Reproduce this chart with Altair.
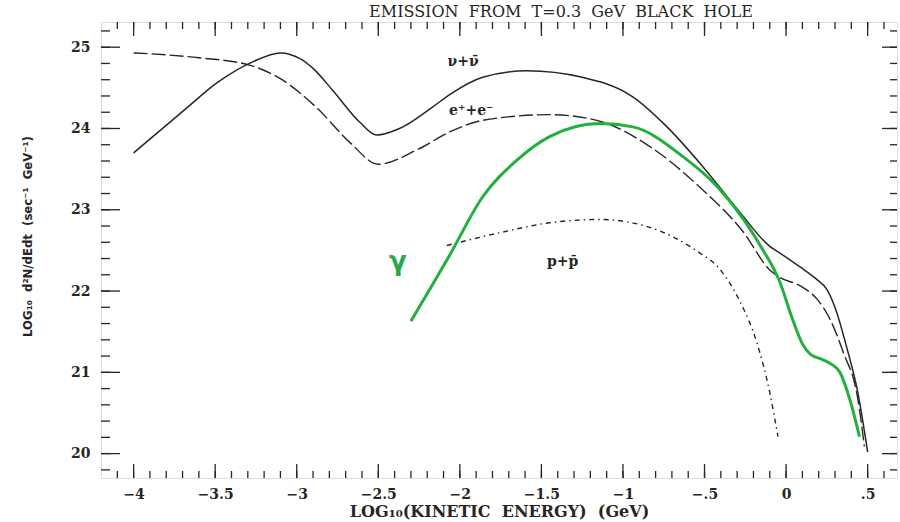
import altair as alt
import pandas as pd

# ---- data ----
nu_x = [-4.0, -3.67, -3.49, -3.27, -3.10, -2.98, -2.90, -2.78, -2.61, -2.51, -2.37, -2.17, -2.06,
        -1.86, -1.59, -1.25, -0.94, -0.73, -0.51, -0.28, -0.10, -0.04, 0.09, 0.19, 0.25, 0.31,
        0.37, 0.44, 0.50]
nu_y = [23.70, 24.26, 24.56, 24.82, 24.93, 24.86, 24.74, 24.47, 24.07, 23.92, 24.00, 24.26, 24.42,
        24.63, 24.71, 24.63, 24.39, 24.02, 23.53, 22.96, 22.55, 22.47, 22.29, 22.14, 22.02, 21.74,
        21.32, 20.75, 20.02]

ee_x = [-4.0, -3.60, -3.29, -3.09, -2.88, -2.67, -2.50, -2.26, -2.06, -1.86, -1.45, -1.16, -0.83,
        -0.53, -0.26, -0.10, -0.04, 0.09, 0.19, 0.27, 0.35, 0.44, 0.48]
ee_y = [24.93, 24.87, 24.78, 24.60, 24.26, 23.82, 23.56, 23.74, 23.96, 24.10, 24.17, 24.10, 23.77,
        23.28, 22.72, 22.26, 22.17, 22.06, 21.90, 21.65, 21.25, 20.67, 20.09]

gamma_x = [-2.30, -2.06, -1.86, -1.65, -1.45, -1.14, -0.94, -0.63, -0.42, -0.26, -0.14, -0.04,
           0.04, 0.10, 0.15, 0.22, 0.27, 0.33, 0.39, 0.45]
gamma_y = [21.63, 22.45, 23.16, 23.61, 23.90, 24.06, 24.02, 23.65, 23.28, 22.88, 22.50, 22.12,
           21.65, 21.35, 21.22, 21.16, 21.11, 21.00, 20.67, 20.21]

pp_x = [-2.08, -1.75, -1.45, -1.14, -0.83, -0.53, -0.42, -0.28, -0.18, -0.10, -0.05]
pp_y = [22.56, 22.72, 22.84, 22.88, 22.78, 22.47, 22.30, 21.86, 21.37, 20.75, 20.21]

label_text = ["ν+ν\u0304", "e\u207a+e\u207b", "p+p\u0304"]
label_x = [-1.98, -1.93, -1.37]
label_y = [24.82, 24.22, 22.36]

gamma_label = ["γ"]
gamma_label_x = [-2.38]
gamma_label_y = [22.36]

x_major = [-4, -3.5, -3, -2.5, -2, -1.5, -1, -0.5, 0, 0.5]
x_minor = [round(-4.1 + 0.1 * i, 2) for i in range(48)]
y_major = [20, 21, 22, 23, 24, 25]
y_minor = [round(19.8 + 0.2 * i, 2) for i in range(28)]

X_MIN, X_MAX = -4.2, 0.68
Y_MIN, Y_MAX = 19.7, 25.31

TITLE = "EMISSION \u00a0FROM \u00a0T=0.3 \u00a0GeV \u00a0BLACK \u00a0HOLE"
X_TITLE = "LOG\u2081\u2080(KINETIC \u00a0ENERGY) \u00a0(GeV)"
Y_TITLE = "LOG\u2081\u2080 \u00a0d\u00b2N/dEdt \u00a0(sec\u207b\u00b9 \u00a0GeV\u207b\u00b9)"

# ---- tables ----
series = pd.concat([
    pd.DataFrame({"x": nu_x, "y": nu_y, "s": "nu"}),
    pd.DataFrame({"x": ee_x, "y": ee_y, "s": "ee"}),
    pd.DataFrame({"x": gamma_x, "y": gamma_y, "s": "gamma"}),
    pd.DataFrame({"x": pp_x, "y": pp_y, "s": "pp"}),
], ignore_index=True)

labels = pd.DataFrame({"x": label_x, "y": label_y, "t": label_text})
glabel = pd.DataFrame({"x": gamma_label_x, "y": gamma_label_y, "t": gamma_label})

SERIF = "DejaVu Serif"
INK = "#262626"

xs = alt.Scale(domain=[X_MIN, X_MAX], nice=False, zero=False)
ys = alt.Scale(domain=[Y_MIN, Y_MAX], nice=False, zero=False)

xaxis = alt.Axis(
    values=x_major, ticks=False, domain=False, grid=False, title=X_TITLE,
    labelExpr="replace(replace(format(datum.value, '~g'), '-', '\u2212'), '0.', '.')",
    labelFont=SERIF, labelFontSize=14, labelFontWeight="bold", labelColor=INK, labelPadding=9,
    titleFont=SERIF, titleFontSize=16, titleFontWeight="bold", titleColor=INK, titlePadding=2,
    labelFlush=False, labelOverlap=False,
)
yaxis = alt.Axis(
    values=y_major, format="d", ticks=False, domain=False, grid=False, title=Y_TITLE,
    labelFont=SERIF, labelFontSize=14, labelFontWeight="bold", labelColor=INK, labelPadding=11,
    titleFont="DejaVu Sans Condensed, Liberation Sans Narrow, DejaVu Sans, sans-serif",
    titleFontSize=13, titleFontWeight="bold", titleColor=INK, titlePadding=36, titleY=214,
    labelFlush=False, labelOverlap=False,
)

X = alt.X("x:Q", scale=xs, axis=xaxis)
Y = alt.Y("y:Q", scale=ys, axis=yaxis)

base = alt.Chart(series).encode(x=X, y=Y)

nu_line = base.transform_filter("datum.s == 'nu'").mark_line(
    interpolate="monotone", color=INK, strokeWidth=1.5)
ee_line = base.transform_filter("datum.s == 'ee'").mark_line(
    interpolate="monotone", color=INK, strokeWidth=1.4, strokeDash=[14, 4])
pp_line = base.transform_filter("datum.s == 'pp'").mark_line(
    interpolate="monotone", color=INK, strokeWidth=1.4, strokeDash=[5, 4, 1.5, 4])
g_line = base.transform_filter("datum.s == 'gamma'").mark_line(
    interpolate="monotone", color="#22b03c", strokeWidth=3)

text_layer = alt.Chart(labels).mark_text(
    font=SERIF, fontSize=14, fontWeight="bold", color=INK, align="center", baseline="middle"
).encode(x=X, y=Y, text="t:N")

gamma_text = alt.Chart(glabel).mark_text(
    font="DejaVu Sans", fontSize=26, fontWeight="bold", color="#2aa84a", align="center",
    baseline="middle"
).encode(x=X, y=Y, text="t:N")

# inward ticks on all four sides (rules anchored on the frame, length as a pixel offset)
xmaj = pd.DataFrame({"x": x_major})
xmin_ = pd.DataFrame({"x": x_minor})
ymaj = pd.DataFrame({"y": y_major})
ymin_ = pd.DataFrame({"y": y_minor})


def vticks(df, length, ypos):
    return alt.Chart(df).mark_rule(color=INK, strokeWidth=1.3, y2Offset=length).encode(
        x=X, y=alt.datum(ypos), y2=alt.datum(ypos))


def hticks(df, length, xpos):
    return alt.Chart(df).mark_rule(color=INK, strokeWidth=1.3, x2Offset=length).encode(
        y=Y, x=alt.datum(xpos), x2=alt.datum(xpos))


ticks = [
    vticks(xmaj, -14, Y_MIN), vticks(xmin_, -7, Y_MIN),
    vticks(xmaj, 14, Y_MAX), vticks(xmin_, 7, Y_MAX),
    hticks(ymaj, 19, X_MIN), hticks(ymin_, 9, X_MIN),
    hticks(ymaj, -15, X_MAX), hticks(ymin_, -7, X_MAX),
]

chart = alt.layer(
    *ticks, ee_line, pp_line, nu_line, g_line, text_layer, gamma_text
).properties(
    width=796, height=456,
    autosize=alt.AutoSizeParams(type="none"),
    padding={"left": 101, "top": 22, "right": 3, "bottom": 44},
    title=alt.TitleParams(TITLE, font=SERIF, fontSize=16, fontWeight="normal", color=INK,
                          anchor="middle", dx=62, offset=1),
).configure_view(
    stroke="#1a1a1a", strokeWidth=1.6
).configure(background="white")

chart.save("out.html", embed_options={"renderer": "svg", "actions": False})
